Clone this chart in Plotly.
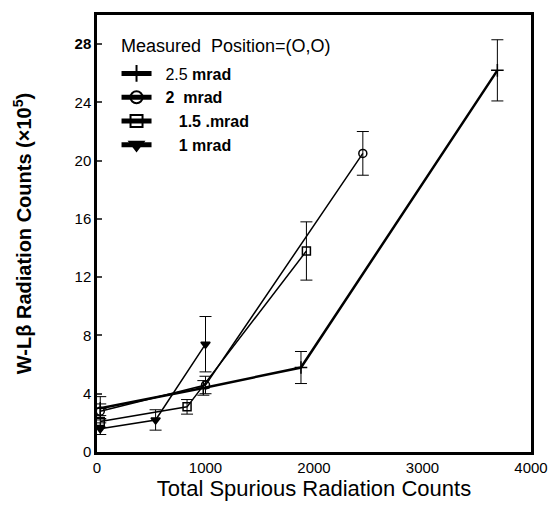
import plotly.graph_objects as go

x_25 = [30, 980, 1880, 3690]
y_25 = [3.0, 4.4, 5.8, 26.2]
e_25 = [0.8, 0.5, 1.1, 2.1]

x_2 = [30, 1000, 2450]
y_2 = [2.8, 4.6, 20.5]
e_2 = [0.5, 0.6, 1.5]

x_15 = [30, 830, 1930]
y_15 = [2.1, 3.1, 13.8]
e_15 = [0.4, 0.5, 2.0]

x_1 = [30, 540, 1000]
y_1 = [1.6, 2.2, 7.4]
e_1 = [0.4, 0.7, 1.9]

x_ticks = [0, 1000, 2000, 3000, 4000]
y_ticks = [0, 4, 8, 12, 16, 20, 24, 28]

series = [
    ("  2.5 <b>mrad</b>", x_25, y_25, e_25, "cross-thin", 2.5, 9),
    ("<b>  2  mrad</b>", x_2, y_2, e_2, "circle-open", 1.5, 8),
    ("<b>     1.5 .mrad</b>", x_15, y_15, e_15, "square-open", 1.5, 8),
    ("<b>     1 mrad</b>", x_1, y_1, e_1, "triangle-down", 1.5, 8),
]

fig = go.Figure()
for name, xs, ys, es, sym, lw, ms in series:
    fig.add_trace(go.Scatter(
        x=xs, y=ys, name=name, mode="lines+markers",
        line=dict(color="black", width=lw),
        marker=dict(symbol=sym, size=ms, color="black",
                    line=dict(color="black", width=1.5)),
        error_y=dict(type="data", array=es, visible=True,
                     color="black", thickness=1, width=6),
    ))

fig.add_annotation(
    text="Measured  Position=(O,O)", xref="paper", yref="paper",
    x=0.05, y=0.929, xanchor="left", yanchor="middle", showarrow=False,
    font=dict(size=18),
)

fig.update_layout(
    width=560, height=505,
    margin=dict(l=97, r=24, t=14, b=53),
    paper_bgcolor="white", plot_bgcolor="white",
    font=dict(family="Liberation Sans, Arial, sans-serif", color="black", size=15),
    showlegend=True,
    legend=dict(
        x=0.045, y=0.905, xanchor="left", yanchor="top",
        bgcolor="rgba(0,0,0,0)",
        font=dict(size=16), tracegroupgap=0, itemsizing="constant",
    ),
    xaxis=dict(
        range=[0, 4000], tickvals=x_ticks, ticktext=[str(v) for v in x_ticks],
        showgrid=False, zeroline=False, showline=True, linecolor="black",
        linewidth=2.5, mirror=True, ticks="",
        tickfont=dict(family="Liberation Sans Narrow, Liberation Sans, sans-serif", size=15),
        title=dict(text="Total Spurious Radiation Counts", font=dict(size=22), standoff=2),
    ),
    yaxis=dict(
        range=[0, 30], tickvals=y_ticks, ticktext=[("<b>28</b>" if v == 28 else str(v)) for v in y_ticks],
        showgrid=False, zeroline=False, showline=True, linecolor="black",
        linewidth=2.5, mirror=True, ticks="inside", ticklen=5, tickwidth=1.5,
        tickfont=dict(size=15),
        title=dict(text="<b>W-L\u03b2 Radiation Counts (\u00d710<sup>5</sup>)</b>",
                   font=dict(size=20), standoff=38),
    ),
)

fig.write_html("out.html")
